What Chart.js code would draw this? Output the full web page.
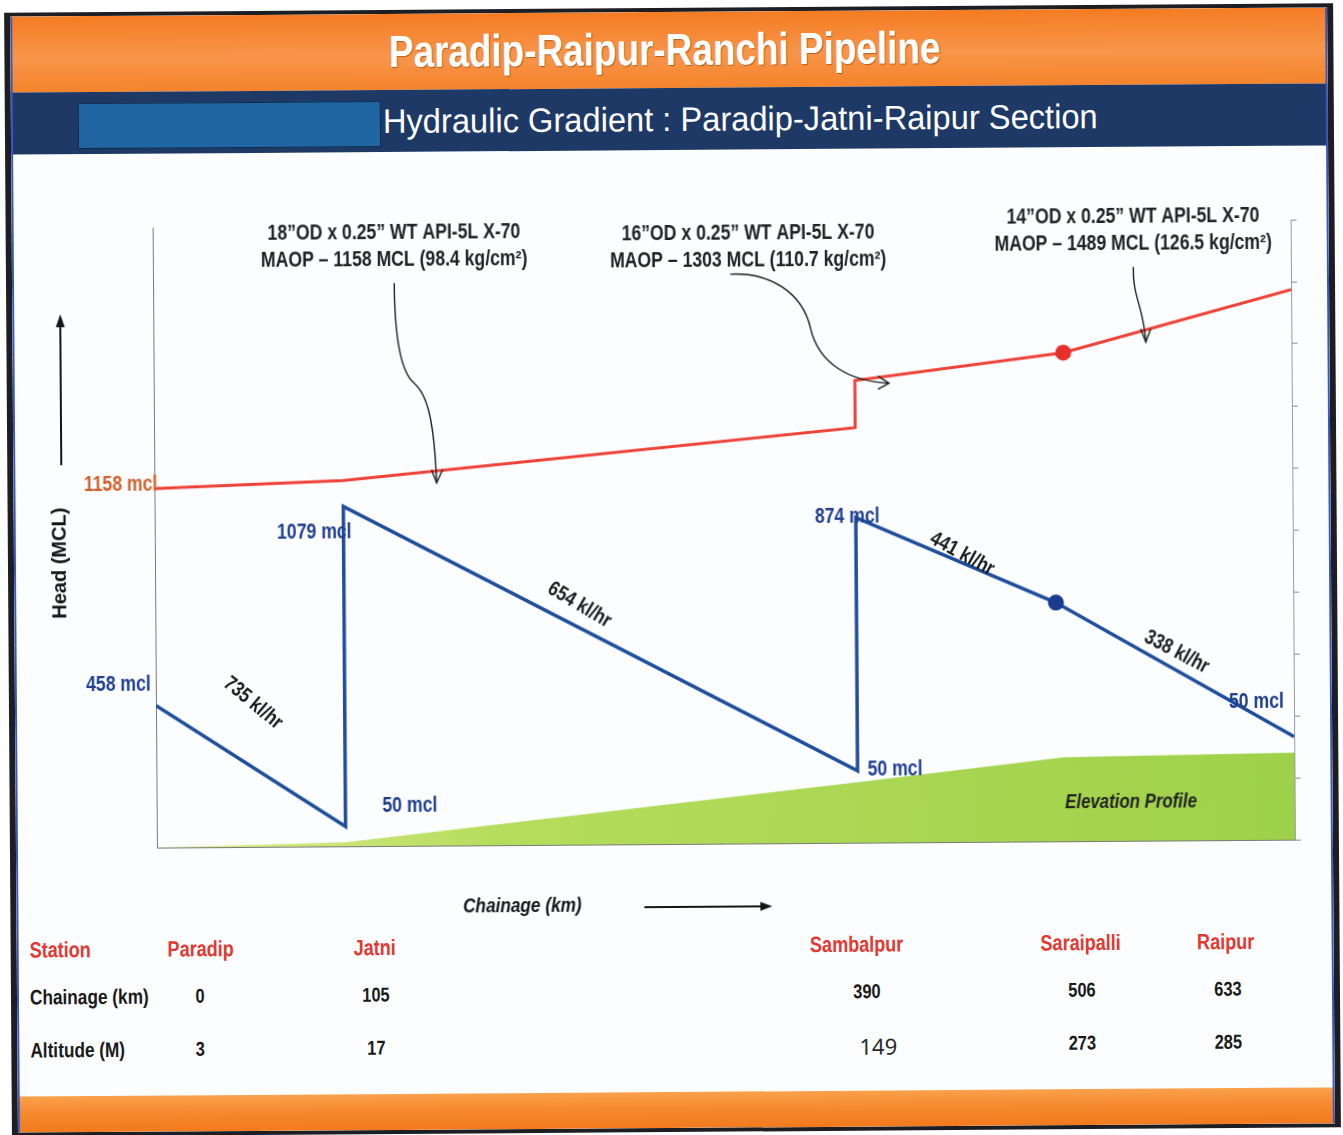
<!DOCTYPE html>
<html>
<head>
<meta charset="utf-8">
<title>Paradip-Raipur-Ranchi Pipeline - Hydraulic Gradient</title>
<script src="https://cdn.jsdelivr.net/npm/chart.js@4.4.1/dist/chart.umd.min.js"></script>
<style>
  html, body { margin: 0; padding: 0; background: #ffffff; }
  body { width: 1343px; height: 1135px; overflow: hidden; position: relative; }
  #page { position: absolute; left: 0; top: 0; width: 1343px; height: 1135px;
          transform: rotate(-0.4deg); transform-origin: 671px 567px;
          font-family: "Liberation Sans", Arial, sans-serif; }
  #frame { position: absolute; left: 8px; top: 8px; width: 1329px; height: 1124px; background: #1d1d24; }
  #inner { position: absolute; left: 6px; top: 4px; right: 6px; bottom: 4px; background: #fbfdff; overflow: hidden; }
  #inner:after { content: ""; position: absolute; left: 0; top: 0; right: 0; bottom: 0;
                 box-shadow: inset 2px 0 0 #3657c4, inset -2px 0 0 #3657c4; }
  #topband { position: absolute; left: 0; right: 0; top: 0; height: 76px; padding-right: 8px;
             background: linear-gradient(180deg, #f47c22 0%, #f8954a 55%, #f5832b 100%);
             color: #fff; font-weight: bold; font-size: 45px; text-align: center; line-height: 76px;
             text-shadow: 1px 1px 1px rgba(90, 40, 0, 0.45); }
  #topband span { display: inline-block; transform: scaleX(0.82); transform-origin: center; }
  #navband { position: absolute; left: 0; right: 0; top: 76px; height: 62px; background: #1e3966; }
  #bluebox { position: absolute; left: 67px; top: 11px; width: 303px; height: 46px; background: #1f66a3;
             border: 1px solid #12294a; box-sizing: border-box; }
  #subtitle { position: absolute; left: 372px; top: 0; height: 62px; line-height: 62px; color: #fff; font-size: 34px;
              white-space: nowrap; transform: scaleX(0.96); transform-origin: left center; }
  #bottomband { position: absolute; left: 0; right: 0; bottom: 0; height: 36px;
                background: linear-gradient(180deg, #f9a24c 0%, #f6892f 45%, #f27a1d 100%); }
  #c { position: absolute; left: 15px; top: 150px; z-index: 2; }
  #table { position: absolute; left: 0; top: 0; z-index: 3; }
  .cell { position: absolute; white-space: nowrap; transform: translate(-50%, -50%) scaleX(0.82);
          font-weight: bold; font-size: 20px; color: #1a1a1a; }
  .cell.rowhead { transform: translate(0, -50%) scaleX(0.82); transform-origin: left center; font-size: 21px; }
  .cell.station { color: #e03a32; font-size: 22px; }
  .cell.plain { transform: translate(-50%, -50%); font-family: "Noto Sans", "Open Sans", sans-serif;
                font-weight: normal; font-size: 22px; color: #2a2a2a; }
</style>
</head>
<body>
<div id="page">
  <div id="frame">
    <div id="inner">
      <div id="topband"><span>Paradip-Raipur-Ranchi Pipeline</span></div>
      <div id="navband">
        <div id="bluebox"></div>
        <div id="subtitle">Hydraulic Gradient : Paradip-Jatni-Raipur Section</div>
      </div>
      <div id="bottomband"></div>
    </div>
  </div>
  <canvas id="c" width="1314" height="780"></canvas>
  <div id="table"></div>
</div>
<script>
// ---- values ----
const stations = ['Paradip', 'Jatni', 'Sambalpur', 'Saraipalli', 'Raipur'];
const chainageKm = [0, 105, 390, 506, 633];
const altitudeM = [3, 17, 149, 273, 285];

// MAOP envelope (red), chainage km / head mcl
const maopKm = [0, 105, 390, 390, 506, 633];
const maopHead = [1158, 1180, 1339, 1491, 1576, 1774];

// hydraulic gradient (blue)
const hgKm = [0, 105, 105, 390, 390, 501, 633];
const hgHead = [458, 64, 1096, 232, 1049, 770, 332];

// ground elevation profile (green)
const elevKm = [0, 105, 390, 505, 633];
const elevHead = [0, 13, 195, 271, 281];

const headLabels = ['1158 mcl', '458 mcl', '1079 mcl', '50 mcl', '874 mcl', '50 mcl', '50 mcl'];
const flowLabels = ['735 kl/hr', '654 kl/hr', '441 kl/hr', '338 kl/hr'];
const pipeSpecs = [
  ['18”OD x 0.25” WT API-5L X-70', 'MAOP – 1158 MCL (98.4 kg/cm²)'],
  ['16”OD x 0.25” WT API-5L X-70', 'MAOP – 1303 MCL (110.7 kg/cm²)'],
  ['14”OD x 0.25” WT API-5L X-70', 'MAOP – 1489 MCL (126.5 kg/cm²)']
];

// ---- placement of the text bits (anchor in km/mcl + pixel nudge) ----
const FONT = '"Liberation Sans", Arial, sans-serif';
const NARROW = 0.82;   // squeeze Liberation Sans to an Arial Narrow look
const BLUE = '#1f4e9c';
const RED = '#ee4236';

const headLabelPos = [
  { km: 0, h: 1158, dx: 3, dy: -4, align: 'right', color: '#d2602b' },
  { km: 0, h: 458, dx: -5, dy: -21, align: 'right' },
  { km: 105, h: 1096, dx: 8, dy: 26, align: 'right' },
  { km: 105, h: 64, dx: 37, dy: -20, align: 'left' },
  { km: 390, h: 1049, dx: -41, dy: -1, align: 'left' },
  { km: 390, h: 232, dx: 10, dy: -1, align: 'left' },
  { km: 633, h: 332, dx: -65, dy: -35, align: 'left' }
];
const flowLabelPos = [
  { km: 54, h: 464, angle: 40 },
  { km: 236, h: 773, angle: 31 },
  { km: 449, h: 929, angle: 29 },
  { km: 568, h: 608, angle: 28 }
];
// arrow tip on the red line, text offset, leader path relative to the tip
const specPos = [
  { km: 157, h: 1170, tx: -41, ty: -250,
    path: [[-41, -200], [-41, -150, -36, -112, -22, -100], [-8, -88, -2, -60, 0, 0]],
    head: [[-5, -13], [0, 0], [6, -13]] },
  { km: 409, h: 1482, tx: -140, ty: -151,
    path: [[-158, -110], [-120, -112, -86, -92, -78, -55], [-70, -20, -40, -2, 0, 0]],
    head: [[-11, -7], [0, 0], [-11, 6]] },
  { km: 552, h: 1609, tx: -12, ty: -125,
    path: [[-12, -75], [-13, -45, -2, -35, 0, 0]],
    head: [[-5, -13], [0, 0], [5, -13]] }
];

function pts(xs, ys) {
  return xs.map((x, i) => ({ x: x, y: ys[i] }));
}

function squeezed(ctx, text, x, y, align, angle) {
  ctx.save();
  ctx.translate(x, y);
  if (angle) ctx.rotate(angle * Math.PI / 180);
  ctx.scale(NARROW, 1);
  ctx.textAlign = align;
  ctx.fillText(text, 0, 0);
  ctx.restore();
}

function filledHead(ctx, x, y, dir, len, half) {
  ctx.beginPath();
  if (dir === 'up') {
    ctx.moveTo(x, y); ctx.lineTo(x - half, y + len); ctx.lineTo(x + half, y + len);
  } else {
    ctx.moveTo(x, y); ctx.lineTo(x - len, y - half); ctx.lineTo(x - len, y + half);
  }
  ctx.closePath();
  ctx.fill();
}

const extras = {
  id: 'extras',
  afterDatasetsDraw(chart) {
    const ctx = chart.ctx;
    const sx = chart.scales.x, sy = chart.scales.y;
    const area = chart.chartArea;
    const P = (km, h) => [sx.getPixelForValue(km), sy.getPixelForValue(h)];
    ctx.save();
    ctx.textBaseline = 'middle';

    // head values at the stations
    ctx.font = 'bold 21.5px ' + FONT;
    headLabels.forEach((t, i) => {
      const p = headLabelPos[i];
      const [x, y] = P(p.km, p.h);
      ctx.fillStyle = p.color || '#203f8f';
      squeezed(ctx, t, x + p.dx, y + p.dy, p.align);
    });

    // flow rates along the gradient
    ctx.fillStyle = '#1b1b1b';
    ctx.font = 'bold 21px ' + FONT;
    flowLabels.forEach((t, i) => {
      const p = flowLabelPos[i];
      const [x, y] = P(p.km, p.h);
      squeezed(ctx, t, x, y, 'center', p.angle);
    });

    // elevation profile tag
    ctx.font = 'italic bold 20.5px ' + FONT;
    ctx.fillStyle = '#222';
    const [ex, ey] = P(542, 125);
    squeezed(ctx, 'Elevation Profile', ex, ey, 'center');

    // pipe spec callouts with leaders
    ctx.strokeStyle = '#1e1e1e';
    ctx.lineWidth = 1.4;
    pipeSpecs.forEach((lines, i) => {
      const s = specPos[i];
      const [tx, ty] = P(s.km, s.h);
      ctx.font = 'bold 21.5px ' + FONT;
      ctx.fillStyle = '#222';
      squeezed(ctx, lines[0], tx + s.tx, ty + s.ty, 'center');
      squeezed(ctx, lines[1], tx + s.tx, ty + s.ty + 27, 'center');
      ctx.beginPath();
      s.path.forEach((seg, k) => {
        if (k === 0) ctx.moveTo(tx + seg[0], ty + seg[1]);
        else ctx.bezierCurveTo(tx + seg[0], ty + seg[1], tx + seg[2], ty + seg[3], tx + seg[4], ty + seg[5]);
      });
      ctx.stroke();
      ctx.beginPath();
      s.head.forEach((q, k) => {
        if (k === 0) ctx.moveTo(tx + q[0], ty + q[1]);
        else ctx.lineTo(tx + q[0], ty + q[1]);
      });
      ctx.stroke();
    });

    // axis titles with arrows
    ctx.fillStyle = '#151515';
    ctx.strokeStyle = '#151515';
    ctx.lineWidth = 2;
    const hx = area.left - 93;
    ctx.beginPath();
    ctx.moveTo(hx, area.top + 237);
    ctx.lineTo(hx, area.top + 97);
    ctx.stroke();
    filledHead(ctx, hx, area.top + 86, 'up', 13, 4.5);
    ctx.save();
    ctx.translate(area.left - 95, area.top + 335);
    ctx.rotate(-Math.PI / 2);
    ctx.font = 'bold 20px ' + FONT;
    ctx.textAlign = 'center';
    ctx.fillText('Head (MCL)', 0, 0);
    ctx.restore();

    ctx.font = 'italic bold 21px ' + FONT;
    squeezed(ctx, 'Chainage (km)', area.left + 365, area.bottom + 61, 'center');
    ctx.beginPath();
    ctx.moveTo(area.left + 487, area.bottom + 63);
    ctx.lineTo(area.left + 605, area.bottom + 63);
    ctx.stroke();
    filledHead(ctx, area.left + 615, area.bottom + 63, 'right', 12, 4.5);

    ctx.restore();
  }
};

const ctx = document.getElementById('c');
new Chart(ctx, {
  type: 'line',
  data: {
    datasets: [
      {
        label: 'MAOP',
        data: pts(maopKm, maopHead),
        borderColor: RED,
        backgroundColor: '#e8302a',
        borderWidth: 3,
        pointRadius: [0, 0, 0, 0, 8, 0],
        pointBorderWidth: 0,
        tension: 0,
        fill: false,
        order: 1
      },
      {
        label: 'Hydraulic gradient',
        data: pts(hgKm, hgHead),
        borderColor: BLUE,
        backgroundColor: '#1a3c8e',
        borderWidth: 3.5,
        pointRadius: [0, 0, 0, 0, 0, 8, 0],
        pointBorderWidth: 0,
        tension: 0,
        fill: false,
        order: 2
      },
      {
        label: 'Elevation',
        data: pts(elevKm, elevHead),
        borderWidth: 0,
        pointRadius: 0,
        tension: 0,
        fill: 'origin',
        backgroundColor: function (c) {
          const area = c.chart.chartArea;
          if (!area) return '#a8d64f';
          const g = c.chart.ctx.createLinearGradient(area.left, 0, area.right, 0);
          g.addColorStop(0, '#dcee90');
          g.addColorStop(0.3, '#b6dc5c');
          g.addColorStop(1, '#9ed14a');
          return g;
        },
        order: 3
      }
    ]
  },
  options: {
    responsive: false,
    animation: false,
    devicePixelRatio: 1,
    layout: { padding: { left: 140, top: 74, right: 30, bottom: 86 } },
    plugins: { legend: { display: false }, tooltip: { enabled: false } },
    scales: {
      x: {
        type: 'linear', min: 0, max: 633,
        ticks: { display: false },
        grid: { display: false, drawTicks: false },
        border: { display: true, color: '#7a7a7a', width: 1 }
      },
      y: {
        type: 'linear', min: 0, max: 2000,
        ticks: { display: false },
        grid: { display: false, drawTicks: false },
        border: { display: true, color: '#7a7a7a', width: 1 }
      },
      y2: {
        type: 'linear', position: 'right', min: 0, max: 10,
        ticks: { display: false, stepSize: 1 },
        grid: { display: true, drawOnChartArea: false, drawTicks: true, tickLength: 6, color: '#8a8a8a' },
        border: { display: true, color: '#9a9a9a', width: 1 }
      }
    }
  },
  plugins: [extras]
});

// ---- station table under the chart ----
const table = document.getElementById('table');
const nameX = [198, 372, 854, 1078, 1223];
const valueX = [197, 373, 864, 1079, 1225];
const rowY = [946, 993, 1046];

function cell(text, x, y, cls) {
  const d = document.createElement('div');
  d.className = 'cell ' + cls;
  d.textContent = text;
  d.style.left = x + 'px';
  d.style.top = y + 'px';
  table.appendChild(d);
}

cell('Station', 27, rowY[0], 'rowhead station');
cell('Chainage (km)', 27, rowY[1], 'rowhead');
cell('Altitude (M)', 27, rowY[2], 'rowhead');
stations.forEach((s, i) => {
  cell(s, nameX[i], rowY[0], 'station');
  cell(String(chainageKm[i]), valueX[i], rowY[1], '');
  // the Sambalpur altitude is set in a different typeface in the original
  if (i === 2) cell(String(altitudeM[i]), valueX[i] + 11, rowY[2] + 1, 'plain');
  else cell(String(altitudeM[i]), valueX[i], rowY[2], '');
});
</script>
</body>
</html>
